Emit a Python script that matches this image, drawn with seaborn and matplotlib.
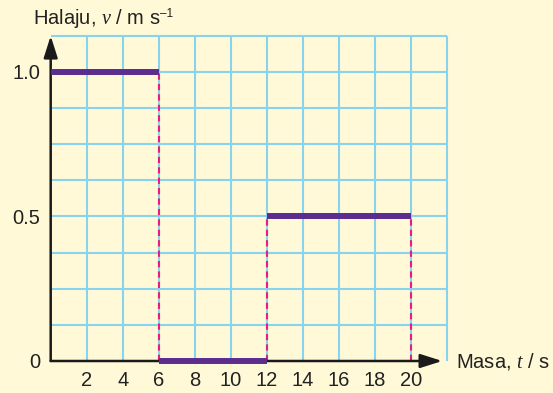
import matplotlib
matplotlib.use("Agg")
import matplotlib.pyplot as plt
import seaborn as sns
import pandas as pd
import numpy as np

# --- data ---
seg_start = [0, 6, 12]
seg_end = [6, 12, 20]
seg_speed = [1.0, 0.0, 0.5]
drop_t = [6, 12, 20]
drop_top = [1.0, 0.5, 0.5]
x_ticks = [2, 4, 6, 8, 10, 12, 14, 16, 18, 20]
y_ticks = [0.5, 1.0]
y_ticklabels = ["0.5", "1.0"]

bg = "#fff9d7"
grid_col = "#86d4ef"
line_col = "#5c2d8e"
dash_col = "#ec1c7b"
ink = "#222222"
fs = 14.5

sns.set_theme(style="white")
plt.rcParams["font.family"] = ["Liberation Sans Narrow", "Liberation Sans", "DejaVu Sans"]
plt.rcParams["mathtext.fontset"] = "custom"
plt.rcParams["mathtext.it"] = "Liberation Serif:italic"
plt.rcParams["mathtext.rm"] = "Liberation Sans"

# long-form frame: one row per segment end
df = pd.DataFrame({
    "t": [v for s, e in zip(seg_start, seg_end) for v in (s, e)],
    "v": [v for v in seg_speed for _ in range(2)],
    "seg": [i for i in range(len(seg_speed)) for _ in range(2)],
})

fig = plt.figure(figsize=(5.53, 3.93), dpi=100, facecolor=bg)
W, H = 553, 393
x0, y0 = 50.7, 361        # pixel position of origin
ux, uy = 18.0, 289        # pixels per unit
xmax, ymax = 22.4, 1.15
ax = fig.add_axes([x0 / W, (H - y0) / H, xmax * ux / W, ymax * uy / H])
ax.set_facecolor(bg)
ax.set_xlim(0, xmax)
ax.set_ylim(0, ymax)

# grid paper
ax.vlines(np.arange(2, 23, 2), 0, 1.125, color=grid_col, lw=1.5, zorder=1)
ax.hlines(np.arange(0.125, 1.13, 0.125), 0, 22, color=grid_col, lw=1.5, zorder=1)

# dashed drop lines
ax.vlines(drop_t, 0, drop_top, color=dash_col, lw=1.5, linestyles=(0, (3, 2)), zorder=2)

# axes with arrows
ax.annotate("", xy=(21.75, 0), xytext=(0, 0),
            arrowprops=dict(arrowstyle="-|>,head_length=1.1,head_width=0.35",
                            color="#1a1a1a", lw=1.8, shrinkA=0, shrinkB=0), zorder=3)
ax.annotate("", xy=(0, 1.125), xytext=(0, 0),
            arrowprops=dict(arrowstyle="-|>,head_length=1.1,head_width=0.35",
                            color="#1a1a1a", lw=1.8, shrinkA=0, shrinkB=0), zorder=3)

sns.lineplot(data=df, x="t", y="v", units="seg", estimator=None,
             color=line_col, lw=4.3, ax=ax, zorder=4, legend=False,
             solid_capstyle="butt")
for ln in ax.lines:
    ln.set_clip_on(False)

for s in ax.spines.values():
    s.set_visible(False)

ax.set_xticks(x_ticks)
ax.set_yticks(y_ticks)
ax.set_yticklabels(y_ticklabels)
ax.tick_params(axis="both", direction="inout", length=9, width=1.5,
               color="#1a1a1a", labelsize=fs, labelcolor=ink)
ax.tick_params(axis="x", pad=2.5)
ax.tick_params(axis="y", pad=3)
ax.set_xlabel("")
ax.set_ylabel("")

ax.text(-0.6, -0.005, "0", ha="right", va="center", fontsize=fs, color=ink)
ax.text(22.5, 0, "Masa, $t$ / s", ha="left", va="center", fontsize=fs,
        color=ink, clip_on=False)
fig.text(33 / W, 1 - 19 / H, "Halaju, $v$ / m s", ha="left",
         va="center", fontsize=fs, color=ink)
fig.text(160 / W, 1 - 14 / H, "\u20131", ha="left",
         va="center", fontsize=8.5, color=ink)

fig.savefig("out.png", dpi=100, facecolor=bg)
